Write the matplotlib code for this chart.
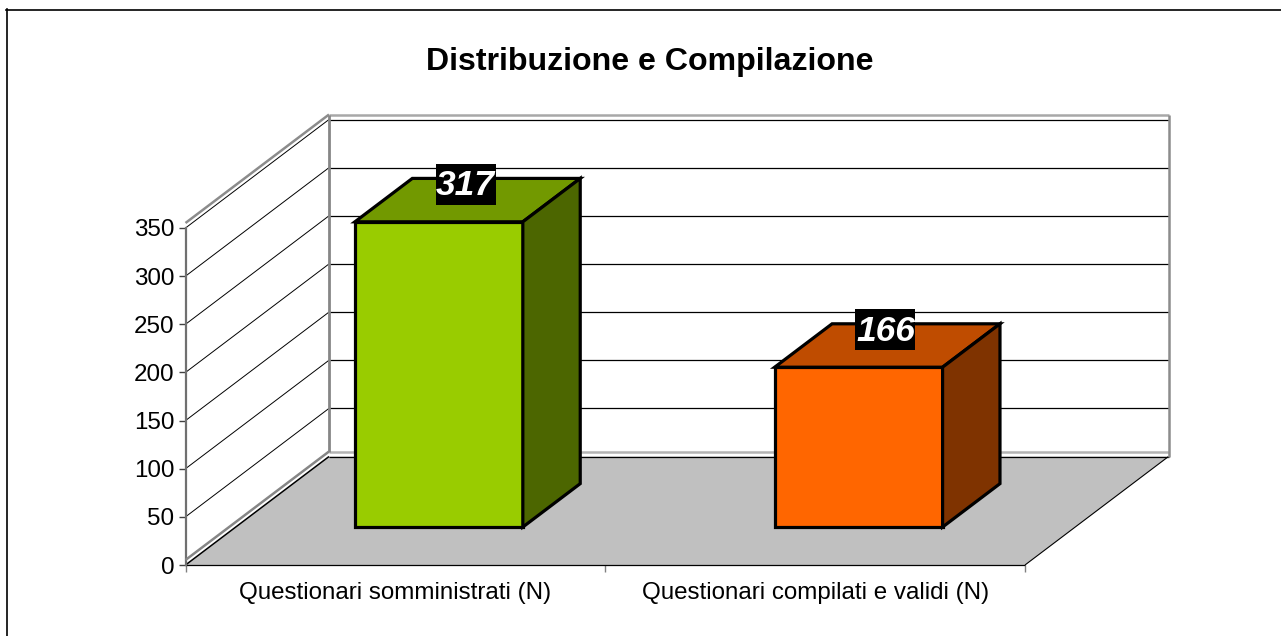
import matplotlib
matplotlib.use('Agg')
import matplotlib.pyplot as plt
from matplotlib.lines import Line2D
from matplotlib.patches import Polygon

plt.rcParams['font.family'] = ['Liberation Sans', 'DejaVu Sans']

categories = ['Questionari somministrati (N)', 'Questionari compilati e validi (N)']
values = [317, 166]
front_colors = ['#99CC00', '#FF6600']
top_colors = ['#729900', '#BF4C00']
side_colors = ['#4C6600', '#7F3300']
y_ticks = [0, 50, 100, 150, 200, 250, 300, 350]

W, H = 1281, 636

# oblique depth: one unit of depth in data units
DX = 143.5 / 419.75
DY = 108.5 / 0.963
WALL_UP = 5.2   # wall frame sits a little above the gridlines


def pr(x, v, d=0.0):
    return (x + d * DX, v + d * DY)


def poly(ax, pts, **kw):
    ax.add_patch(Polygon(pts, closed=True, clip_on=False, **kw))


def line(ax, a, b, **kw):
    ax.plot([a[0], b[0]], [a[1], b[1]], clip_on=False, solid_capstyle='butt', **kw)


fig = plt.figure(figsize=(W / 100, H / 100), dpi=100)
ax = fig.add_axes([185.5 / W, 1 - 565 / H, 839.5 / W, 337 / H])
ax.set_xlim(0, 2)
ax.set_ylim(0, 350)
ax.patch.set_visible(False)
for s in ['top', 'right', 'bottom']:
    ax.spines[s].set_visible(False)
ax.spines['left'].set_color('#707070')
ax.spines['left'].set_linewidth(1.6)

# floor
poly(ax, [pr(0, 0), pr(2, 0), pr(2, 0, 1), pr(0, 0, 1)], facecolor='#C0C0C0', edgecolor='none', zorder=1)
line(ax, pr(0, 0), pr(2, 0), color='black', lw=0.9, zorder=2)
line(ax, pr(0, 0, 1), pr(2, 0, 1), color='black', lw=0.9, zorder=2)
line(ax, pr(0, 0), pr(0, 0, 1), color='black', lw=1.1, zorder=2)
line(ax, pr(2, 0), pr(2, 0, 1), color='black', lw=0.8, zorder=2)

# gridlines
for v in y_ticks[1:]:
    line(ax, pr(0, v), pr(0, v, 1), color='black', lw=0.7, zorder=2)
    line(ax, pr(0, v, 1), pr(2, v, 1), color='black', lw=0.9, zorder=2)

# wall frame
line(ax, pr(0, WALL_UP), pr(0, WALL_UP, 1), color='#868686', lw=1.8, zorder=3)
line(ax, pr(0, 350 + WALL_UP), pr(0, 350 + WALL_UP, 1), color='#8C8C8C', lw=1.8, zorder=3)
line(ax, pr(0, 350 + WALL_UP, 1), pr(2, 350 + WALL_UP, 1), color='#A8A8A8', lw=1.8, zorder=3)
line(ax, pr(0, WALL_UP, 1), pr(2, WALL_UP, 1), color='#B4B4B4', lw=1.8, zorder=3)
line(ax, pr(0, WALL_UP, 1), pr(0, 350 + WALL_UP, 1), color='#868686', lw=2.0, zorder=3)
line(ax, pr(2, 0, 1), pr(2, 350 + WALL_UP, 1), color='#8C8C8C', lw=1.8, zorder=3)

# bars
BAR_W = 0.4
D1, D2 = 0.35, 0.75
LABEL_HW, LABEL_HH = 0.0715, 21.3
for i, v in enumerate(values):
    c = i + 0.484
    l, r = c - BAR_W / 2, c + BAR_W / 2
    st = dict(edgecolor='black', linewidth=2.3, joinstyle='miter', zorder=5)
    poly(ax, [pr(l, 0, D1), pr(r, 0, D1), pr(r, v, D1), pr(l, v, D1)], facecolor=front_colors[i], **st)
    poly(ax, [pr(l, v, D1), pr(r, v, D1), pr(r, v, D2), pr(l, v, D2)], facecolor=top_colors[i], **st)
    poly(ax, [pr(r, 0, D1), pr(r, 0, D2), pr(r, v, D2), pr(r, v, D1)], facecolor=side_colors[i], **st)
    lx, ly = pr(c - 0.073, v - 6, D2)
    poly(ax, [(lx - LABEL_HW, ly - LABEL_HH), (lx + LABEL_HW, ly - LABEL_HH),
              (lx + LABEL_HW, ly + LABEL_HH), (lx - LABEL_HW, ly + LABEL_HH)],
         facecolor='black', edgecolor='none', zorder=6)
    ax.text(lx, ly - 1.5, str(v), color='white', fontsize=25.5, fontweight='bold', fontstyle='italic',
            ha='center', va='center', zorder=7)

# axes ticks and labels
ax.set_yticks(y_ticks)
ax.tick_params(axis='y', length=5, width=1, color='#404040', labelsize=17.4, pad=3, labelcolor='black')
ax.set_xticks([0, 1, 2])
ax.set_xticklabels([])
ax.tick_params(axis='x', which='major', length=5, width=1, color='#808080')
ax.set_xticks([0.5, 1.5], minor=True)
ax.set_xticklabels(categories, minor=True)
ax.tick_params(axis='x', which='minor', length=0, labelsize=17.4, pad=12, labelcolor='black')

fig.text(650 / W, 1 - 62 / H, 'Distribuzione e Compilazione', fontsize=23.1, fontweight='bold',
         ha='center', va='center')

# chart area border, open at right and bottom in the source
fig.add_artist(Line2D([6.5 / W, 6.5 / W], [0, 1 - 9 / H], color='black', lw=1.2))
fig.add_artist(Line2D([6 / W, 1], [1 - 9.5 / H, 1 - 9.5 / H], color='black', lw=1.2))

fig.savefig('out.png', dpi=100)
